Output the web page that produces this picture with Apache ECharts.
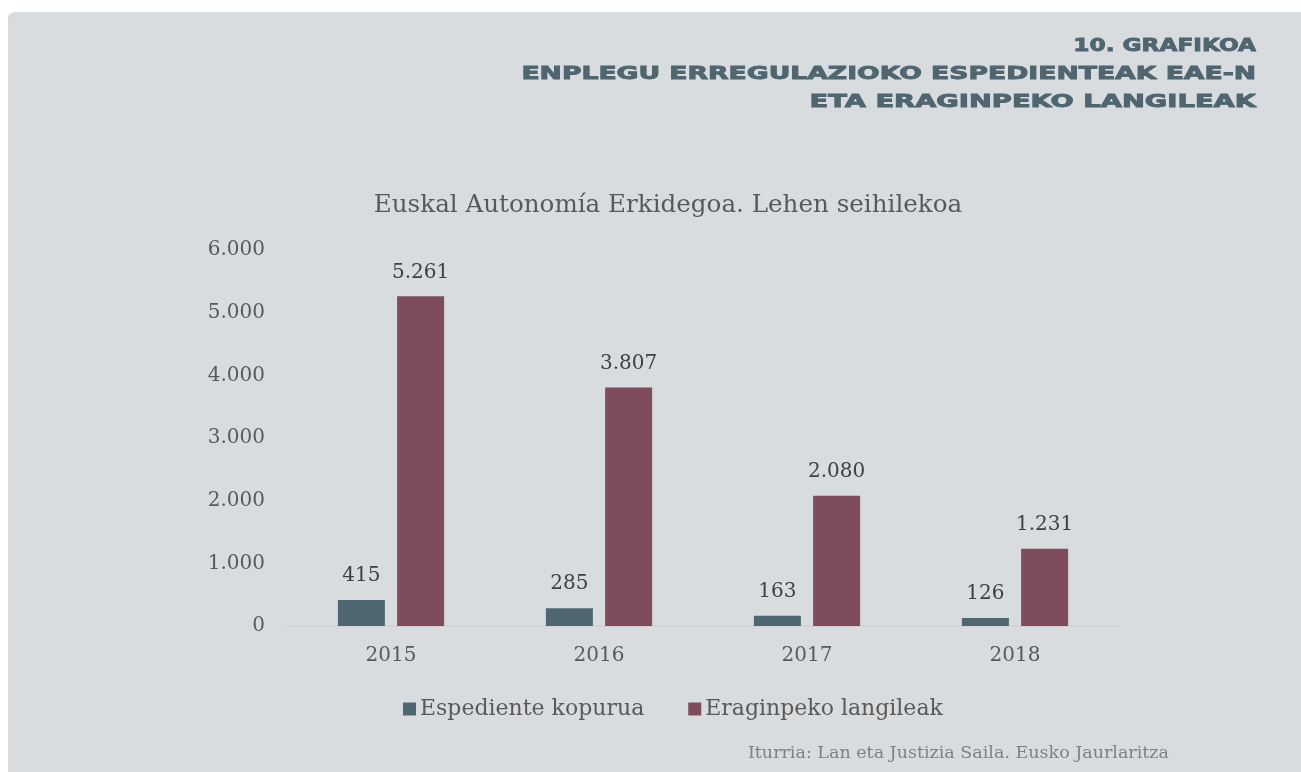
<!DOCTYPE html>
<html>
<head>
<meta charset="utf-8">
<script src="https://cdn.jsdelivr.net/npm/echarts@6/dist/echarts.min.js"></script>
<style>
  html, body { margin: 0; padding: 0; background: #ffffff; }
  #card { position: absolute; left: 8px; top: 12px; width: 1310px; height: 780px; background: #d9dcdf; border-top-left-radius: 6px; }
  #chart { position: absolute; left: 0; top: 0; width: 1301px; height: 772px; }
</style>
</head>
<body>
<div id="card"></div>
<div id="chart"></div>
<script>
  // datuak
  var years = ['2015', '2016', '2017', '2018'];
  var espedienteak = [415, 285, 163, 126];
  var langileak = [5261, 3807, 2080, 1231];
  var seriesNames = ['Espediente kopurua', 'Eraginpeko langileak'];

  var App = {};

  App.init = function(){
    var _this = this;
    var serif = '"DejaVu Serif", serif';
    var head = '"DejaVu Sans", sans-serif';

    // 1.000 formatua
    var fmt = function(v){
      return String(v).replace(/\B(?=(\d{3})+(?!\d))/g, '.');
    };

    _this.F_loadChart = function(){
      var chart = echarts.init(document.getElementById('chart'));

      // goiburuko lerroak, eskuinean lerrokatuta eta zabalduta
      var headLine = function(txt, y, sx){
        return {
          type: 'text', x: 1256, y: y, scaleX: sx,
          style: { text: txt, x: 0, y: 0, font: 'bold 18px ' + head, fill: '#4f6570', stroke: '#4f6570', lineWidth: 0.9, textAlign: 'right', textVerticalAlign: 'middle' }
        };
      };

      var option = {
        backgroundColor: 'transparent',
        title: {
          text: 'Euskal Autonomía Erkidegoa. Lehen seihilekoa',
          left: 663, top: 188, textAlign: 'center',
          textStyle: { fontFamily: serif, fontWeight: 'normal', fontSize: 24.6, color: '#595959' }
        },
        graphic: [
          headLine('10. GRAFIKOA', 46, 1.29),
          headLine('ENPLEGU ERREGULAZIOKO ESPEDIENTEAK EAE-N', 74, 1.48),
          headLine('ETA ERAGINPEKO LANGILEAK', 102, 1.52),
          {
            type: 'text', x: 1169, y: 753,
            style: { text: 'Iturria: Lan eta Justizia Saila. Eusko Jaurlaritza', x: 0, y: 0, font: '17.5px ' + serif, fill: '#808080', textAlign: 'right', textVerticalAlign: 'middle' }
          }
        ],
        legend: {
          data: seriesNames,
          left: 398, top: 693,
          icon: 'rect', itemWidth: 13, itemHeight: 13, itemGap: 44,
          textStyle: { fontFamily: serif, fontSize: 22, color: '#595959', padding: [0, 0, 0, -1] }
        },
        grid: { left: 287, right: 182, top: 250, bottom: 146 },
        xAxis: {
          type: 'category', data: years,
          axisLine: { lineStyle: { color: '#d3d3d3', width: 2 } },
          axisTick: { show: false },
          axisLabel: { fontFamily: serif, fontSize: 20, color: '#595959', margin: 20 }
        },
        yAxis: {
          type: 'value', min: 0, max: 6000, interval: 1000,
          splitLine: { show: false },
          axisLine: { show: false }, axisTick: { show: false },
          axisLabel: { fontFamily: serif, fontSize: 20, color: '#595959', margin: 22, formatter: fmt }
        },
        series: [
          {
            name: seriesNames[0], type: 'bar', data: espedienteak,
            barWidth: 47, barGap: '26%',
            itemStyle: { color: '#4e6670' },
            label: { show: true, position: 'top', distance: 14, fontFamily: serif, fontSize: 20, color: '#404040', formatter: function(p){ return fmt(p.value); } }
          },
          {
            name: seriesNames[1], type: 'bar', data: langileak,
            barWidth: 47,
            itemStyle: { color: '#7e4c5a' },
            label: { show: true, position: 'top', distance: 14, fontFamily: serif, fontSize: 20, color: '#404040', formatter: function(p){ return fmt(p.value); } }
          }
        ]
      };

      chart.setOption(option);
    };

    _this.F_loadChart();
  };

  App.init();
</script>
</body>
</html>
